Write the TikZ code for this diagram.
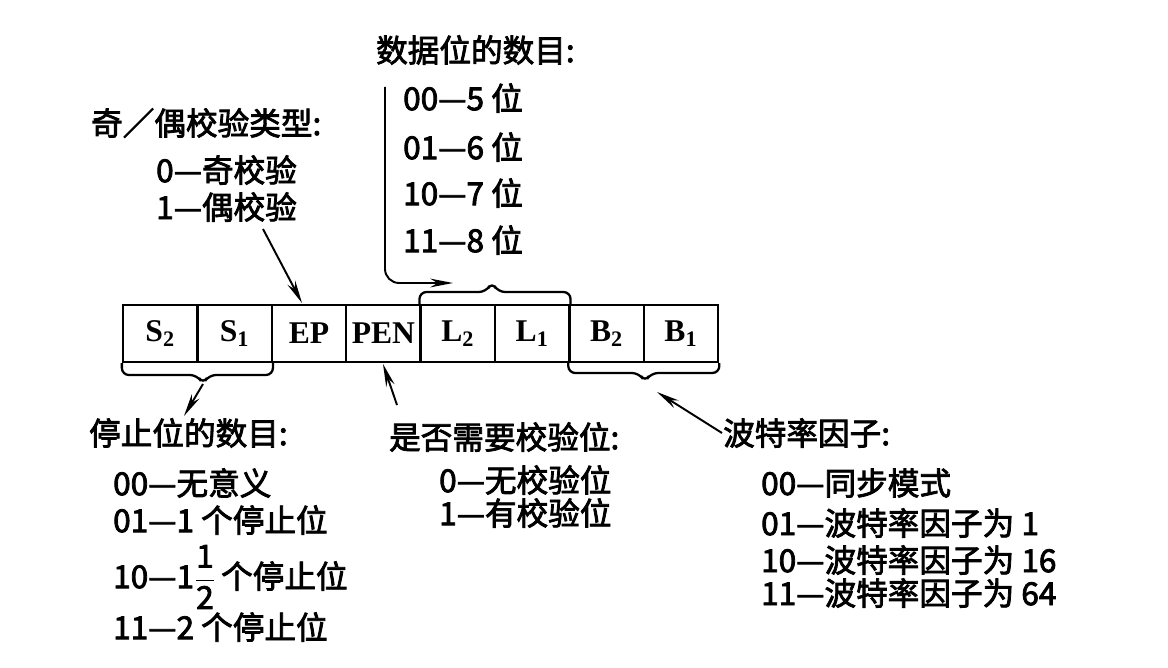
\documentclass[tikz,border=0pt]{standalone}
\usepackage{amsmath}
\usepackage{fontspec}
\setmainfont{Liberation Serif}
\newfontfamily\cjk[FakeBold=2.5]{Noto Sans CJK SC}
\usetikzlibrary{arrows.meta,positioning}

\begin{document}
\begin{tikzpicture}[x=0.02cm, y=-0.02cm, line width=1.3pt]
		\tikzstyle{cell} = [rectangle, draw, minimum width=1.488cm, minimum height=1.14cm, inner sep=0pt, font=\fontsize{18}{21}\selectfont\bfseries]
		\tikzstyle{label_text} = [anchor=west, inner sep=0pt, font=\cjk\fontsize{18}{21}\selectfont]
		\tikzstyle{pointer} = [-{Stealth[length=13pt, width=5pt]}, line width=1.1pt]

		\useasboundingbox (0,0) rectangle (1168,668);

		% Register cells
		\foreach \lab [count=\i] in {S\textsubscript{2}, S\textsubscript{1}, EP, PEN, L\textsubscript{2}, L\textsubscript{1}, B\textsubscript{2}, B\textsubscript{1}}
		\node[cell] (c\i) at ({123+74.4*(\i-0.5)},333.5) {\lab};

		% Parity type
		\node[label_text] (partitle) at (90,123) {奇／偶校验类型:};
		\node[label_text] (par0) at (155,170) {0—奇校验};
		\node[label_text] (par1) at (155,207) {1—偶校验};

		% Data bits
		\node[label_text] (datatitle) at (375,50) {数据位的数目:};
		\node[label_text] (data0) at (402,98) {00—5 位};
		\node[label_text] (data1) at (402,147) {01—6 位};
		\node[label_text] (data2) at (402,193) {10—7 位};
		\node[label_text] (data3) at (402,240) {11—8 位};

		% Stop bits
		\node[label_text] (stoptitle) at (88,433) {停止位的数目:};
		\node[label_text] (stop0) at (112,483) {00—无意义};
		\node[label_text] (stop1) at (112,520) {01—1 个停止位};
		\node[label_text] (stop2) at (112,577) {10—1$\dfrac{\mbox{1}}{\mbox{2}}$\,个停止位};
		\node[label_text] (stop3) at (112,627) {11—2 个停止位};

		% Parity enable
		\node[label_text] (pentitle) at (388,437) {是否需要校验位:};
		\node[label_text] (pen0) at (438,480) {0—无校验位};
		\node[label_text] (pen1) at (438,513) {1—有校验位};

		% Baud rate factor
		\node[label_text] (baudtitle) at (722,433) {波特率因子:};
		\node[label_text] (baud0) at (760,483) {00—同步模式};
		\node[label_text] (baud1) at (760,523) {01—波特率因子为 1};
		\node[label_text] (baud2) at (760,560) {10—波特率因子为 16};
		\node[label_text] (baud3) at (760,593) {11—波特率因子为 64};

		% Braces
		\coordinate (ltip) at (492,282);
		\coordinate (stip) at (203,384);
		\coordinate (btip) at (645,382);
		\draw[rounded corners=4pt] (c5.north west) |- (486,292) -- (ltip) -- (498,292) -| (c6.north east);
		\draw[rounded corners=4pt] (c1.south west) |- (197,375) -- (stip) -- (209,375) -| (c2.south east);
		\draw[rounded corners=4pt] (c7.south west) |- (639,373) -- (btip) -- (651,373) -| (c8.south east);

		% Pointers
		\coordinate (partail) at (263,229);
		\coordinate (parhead) at (302,303);
		\coordinate (datatop) at (385,87);
		\coordinate (datahead) at (453,283);
		\coordinate (stophead) at (184,416);
		\coordinate (pentail) at (397,405);
		\coordinate (penhead) at (383,364);
		\coordinate (baudhead) at (657,392);
		\draw[pointer] (partail) -- (parhead);
		\draw[pointer, rounded corners=8pt] (datatop) |- (datahead);
		\draw[pointer] (stip) -- (stophead);
		\draw[pointer] (pentail) -- (penhead);
		\draw[pointer] (baudtitle.west) -- (baudhead);
	\end{tikzpicture}
\end{document}
